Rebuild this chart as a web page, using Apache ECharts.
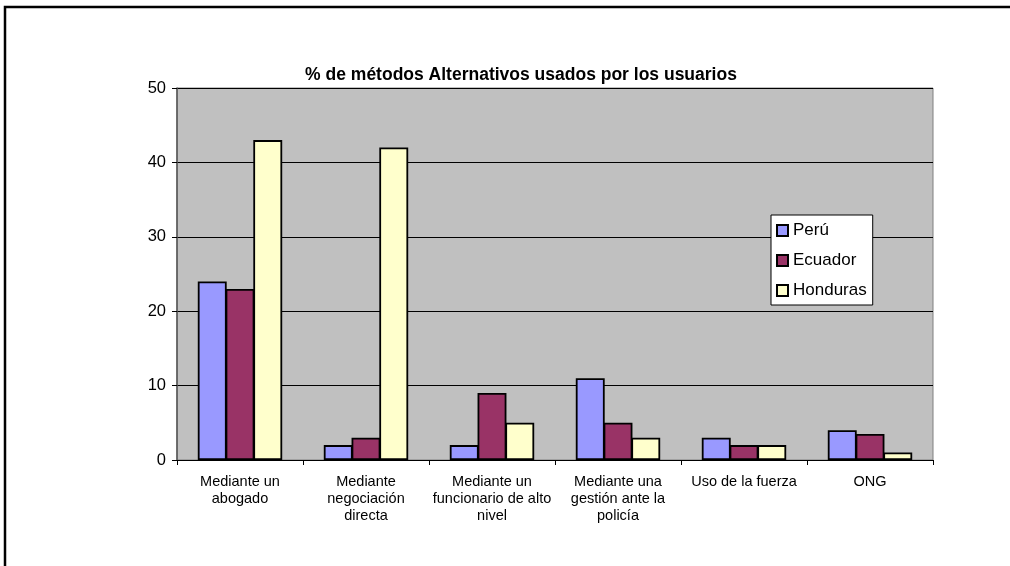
<!DOCTYPE html>
<html>
<head>
<meta charset="utf-8">
<script src="https://cdn.jsdelivr.net/npm/echarts@6/dist/echarts.min.js"></script>
<style>
  html, body { margin: 0; padding: 0; background: #fff; }
  #chart { width: 1010px; height: 566px; }
</style>
</head>
<body>
<div id="chart"></div>
<script>
// Métodos alternativos y porcentaje de usuarios por país
const categories = [
  'Mediante un\nabogado',
  'Mediante\nnegociación\ndirecta',
  'Mediante un\nfuncionario de alto\nnivel',
  'Mediante una\ngestión ante la\npolicía',
  'Uso de la fuerza',
  'ONG'
];
const peru = [24, 2, 2, 11, 3, 4];
const ecuador = [23, 3, 9, 5, 2, 3.5];
const honduras = [43, 42, 5, 3, 2, 1];
const yTicks = [0, 10, 20, 30, 40, 50];

const font = 'Liberation Sans, Arial, sans-serif';

function barSeries(name, data, color) {
  return {
    name: name,
    type: 'bar',
    data: data,
    barGap: '-4%',
    barCategoryGap: '33%',
    itemStyle: { color: color, borderColor: '#000', borderWidth: 1.8 }
  };
}

const chart = echarts.init(document.getElementById('chart'), null, { renderer: 'canvas' });
chart.setOption({
  animation: false,
  backgroundColor: '#fff',
  graphic: [{
    type: 'polyline',
    shape: { points: [[5, 570], [5, 7], [1015, 7]] },
    style: { stroke: '#000', lineWidth: 2.5, fill: null },
    silent: true
  }],
  title: {
    text: '% de métodos Alternativos usados por los usuarios',
    left: 516,
    top: 61,
    textAlign: 'center',
    textStyle: { fontFamily: font, fontSize: 17.5, fontWeight: 'bold', color: '#000' }
  },
  legend: {
    orient: 'vertical',
    left: 771,
    top: 215,
    padding: [7, 6, 6, 5],
    itemGap: 13,
    itemWidth: 11,
    itemHeight: 11,
    backgroundColor: '#fff',
    borderColor: '#000',
    borderWidth: 1,
    icon: 'rect',
    textStyle: { fontFamily: font, fontSize: 17, color: '#000' },
    data: ['Perú', 'Ecuador', 'Honduras']
  },
  grid: {
    left: 177,
    top: 88,
    width: 756,
    height: 372,
    show: true,
    backgroundColor: '#C0C0C0',
    borderColor: '#808080',
    borderWidth: 1
  },
  xAxis: {
    type: 'category',
    data: categories,
    axisLine: { lineStyle: { color: '#000', width: 1 } },
    axisTick: { show: true, length: 5, lineStyle: { color: '#000' } },
    axisLabel: {
      interval: 0,
      margin: 13,
      fontFamily: font,
      fontSize: 14.5,
      lineHeight: 17,
      color: '#000',
      align: 'center'
    }
  },
  yAxis: {
    type: 'value',
    min: yTicks[0],
    max: yTicks[yTicks.length - 1],
    interval: 10,
    axisLine: { show: true, lineStyle: { color: '#555', width: 1.5 } },
    axisTick: { show: true, length: 5, lineStyle: { color: '#000' } },
    axisLabel: { fontFamily: font, fontSize: 16.5, color: '#000', margin: 11 },
    splitLine: { show: true, lineStyle: { color: '#000', width: 1 } }
  },
  series: [
    barSeries('Perú', peru, '#9999FF'),
    barSeries('Ecuador', ecuador, '#993366'),
    barSeries('Honduras', honduras, '#FFFFCC')
  ]
});
</script>
</body>
</html>
